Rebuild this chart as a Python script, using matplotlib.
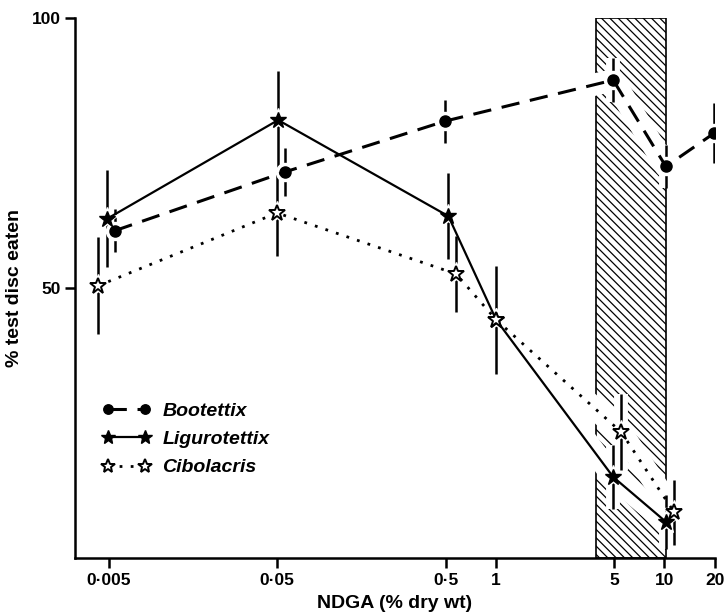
import numpy as np
import matplotlib.pyplot as plt
from matplotlib.patches import Rectangle

plt.rcParams['font.family'] = ['Liberation Sans', 'DejaVu Sans']
plt.rcParams['hatch.linewidth'] = 0.9

# plotted x positions (points are nudged sideways around the nominal doses in the figure)
boot_x = [0.0054, 0.0557, 0.497, 4.96, 10.2, 19.8]
boot_y = [60.6, 71.5, 80.9, 88.5, 72.5, 78.7]
boot_err = [4, 4.5, 4, 4, 4, 5.5]

lig_x = [0.00486, 0.0506, 0.52, 1.0, 4.96, 10.2]
lig_y = [62.8, 81.1, 63.3, 44.1, 15.0, 6.7]
lig_err = [9, 9, 8, 10, 6, 5]

cib_x = [0.0043, 0.0499, 0.578, 1.0, 5.54, 11.4]
cib_y = [50.4, 63.9, 52.6, 44.1, 23.3, 8.5]
cib_err = [9, 8, 7, 0, 7, 6]

xticks = [0.005, 0.05, 0.5, 1, 5, 10, 20]
xticklabels = ['0·005', '0·05', '0·5', '1', '5', '10', '20']
yticks = [50, 100]
band = [3.9, 10.2]  # hatched dose range

fig = plt.figure(figsize=(7.26, 6.14), dpi=100)
ax = fig.add_axes([0.1033, 0.0912, 0.8817, 0.8795])
ax.set_xscale('log')
ax.set_xlim(0.00314, 20)
ax.set_ylim(0, 100)

# hatched band
ax.add_patch(Rectangle((band[0], 0), band[1] - band[0], 100, facecolor='white',
                       edgecolor='black', hatch='\\\\\\\\', lw=1.2, zorder=0.5))

series = [
    (boot_x, boot_y, boot_err, dict(ls=(0, (6, 3.5)), lw=2.2, marker='o', ms=8,
                                    mfc='black', mec='black'), 'Bootettix'),
    (lig_x, lig_y, lig_err, dict(ls='-', lw=1.6, marker='*', ms=12,
                                 mfc='black', mec='black'), 'Ligurotettix'),
    (cib_x, cib_y, cib_err, dict(ls=(0, (1, 3)), lw=2.0, marker='*', ms=12,
                                 mfc='white', mec='black', mew=1.4), 'Cibolacris'),
]

for x, y, e, st, name in series:
    x = np.array(x); y = np.array(y); e = np.array(e)
    # white halos that open gaps in the hatching
    ax.plot(x, y, color='white', lw=16, solid_capstyle='round', zorder=1)
    ax.vlines(x, y - e, y + e, color='white', lw=10, zorder=1)
    # error bars
    ax.vlines(x, y - e, y + e, color='black', lw=1.8, zorder=2)
    # white disc behind markers to break bars
    ax.plot(x, y, ls='none', marker=st['marker'], ms=st['ms'] + 5, color='white',
            zorder=2.5)
    ax.plot(x, y, color='black', zorder=3, label=name, **st)

for s in ['top', 'right']:
    ax.spines[s].set_visible(False)
for s in ['left', 'bottom']:
    ax.spines[s].set_linewidth(1.8)

ax.set_xticks(xticks)
ax.set_xticklabels(xticklabels)
ax.xaxis.set_minor_locator(plt.NullLocator())
ax.set_yticks(yticks)
ax.tick_params(axis='both', width=1.8, length=7, labelsize=12.5, direction='out')
for lab in ax.get_xticklabels() + ax.get_yticklabels():
    lab.set_fontweight('bold')

ax.set_xlabel('NDGA (% dry wt)', fontsize=14, fontweight='bold', labelpad=5)
ax.set_ylabel('% test disc eaten', fontsize=14, fontweight='bold', labelpad=6)

leg = ax.legend(loc='center left', bbox_to_anchor=(0.015, 0.22), frameon=False,
                numpoints=2, handlelength=2.5, handletextpad=0.6, labelspacing=0.55,
                markerscale=0.85,
                prop={'weight': 'bold', 'style': 'italic', 'size': 14})

fig.savefig('out.png', dpi=100)
